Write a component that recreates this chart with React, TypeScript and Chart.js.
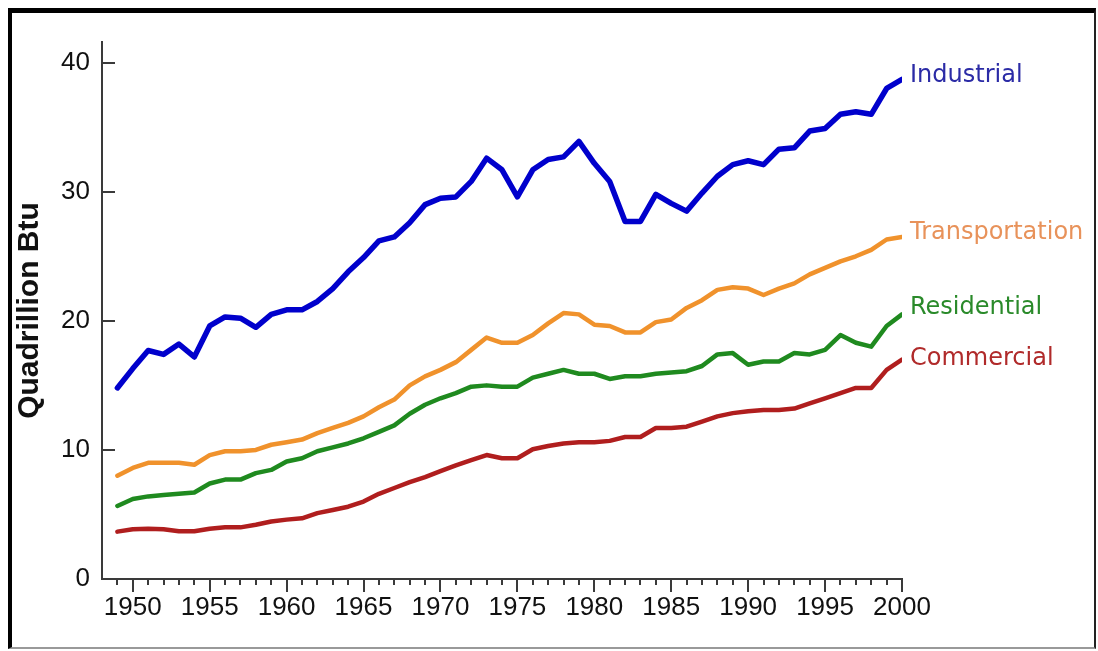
import React, { useEffect, useRef } from "react";
import { Chart, registerables } from "chart.js";

Chart.register(...registerables);

const years = [
  1949, 1950, 1951, 1952, 1953, 1954, 1955, 1956, 1957, 1958, 1959, 1960, 1961,
  1962, 1963, 1964, 1965, 1966, 1967, 1968, 1969, 1970, 1971, 1972, 1973, 1974,
  1975, 1976, 1977, 1978, 1979, 1980, 1981, 1982, 1983, 1984, 1985, 1986, 1987,
  1988, 1989, 1990, 1991, 1992, 1993, 1994, 1995, 1996, 1997, 1998, 1999, 2000,
];

const industrial = [
  14.8, 16.3, 17.7, 17.4, 18.2, 17.2, 19.6, 20.3, 20.2, 19.5, 20.5, 20.85, 20.85,
  21.5, 22.5, 23.8, 24.9, 26.2, 26.5, 27.6, 29.0, 29.5, 29.6, 30.8, 32.6, 31.7,
  29.6, 31.7, 32.5, 32.7, 33.9, 32.2, 30.8, 27.7, 27.7, 29.8, 29.1, 28.5, 29.9,
  31.2, 32.1, 32.4, 32.1, 33.3, 33.4, 34.7, 34.9, 36.0, 36.2, 36.0, 38.0, 38.7,
];

const transportation = [
  8.0, 8.6, 9.0, 9.0, 9.0, 8.85, 9.6, 9.9, 9.9, 10.0, 10.4, 10.6, 10.8,
  11.3, 11.7, 12.1, 12.6, 13.3, 13.9, 15.0, 15.7, 16.2, 16.8, 17.75, 18.7, 18.3,
  18.3, 18.9, 19.8, 20.6, 20.5, 19.7, 19.6, 19.1, 19.1, 19.9, 20.1, 21.0, 21.6,
  22.4, 22.6, 22.5, 22.0, 22.5, 22.9, 23.6, 24.1, 24.6, 25.0, 25.5, 26.3, 26.5,
];

const residential = [
  5.66, 6.2, 6.4, 6.5, 6.6, 6.7, 7.4, 7.7, 7.7, 8.2, 8.45, 9.1, 9.35,
  9.9, 10.2, 10.5, 10.9, 11.4, 11.9, 12.8, 13.5, 14.0, 14.4, 14.9, 15.0, 14.9,
  14.9, 15.6, 15.9, 16.2, 15.9, 15.9, 15.5, 15.7, 15.7, 15.9, 16.0, 16.1, 16.5,
  17.4, 17.5, 16.6, 16.85, 16.85, 17.5, 17.4, 17.75, 18.9, 18.3, 18.0, 19.6, 20.5,
];

const commercial = [
  3.67, 3.85, 3.9, 3.85, 3.7, 3.7, 3.9, 4.0, 4.0, 4.2, 4.45, 4.6, 4.7,
  5.1, 5.35, 5.6, 6.0, 6.6, 7.05, 7.5, 7.9, 8.35, 8.8, 9.2, 9.6, 9.35,
  9.35, 10.05, 10.3, 10.5, 10.6, 10.6, 10.7, 11.0, 11.0, 11.7, 11.7, 11.8, 12.2,
  12.6, 12.85, 13.0, 13.1, 13.1, 13.2, 13.6, 14.0, 14.4, 14.8, 14.8, 16.2, 17.0,
];

const seriesNames = ["Industrial", "Transportation", "Residential", "Commercial"];
const yTickValues = [0, 10, 20, 30, 40];
const xTickLabels = [1950, 1955, 1960, 1965, 1970, 1975, 1980, 1985, 1990, 1995, 2000];
const yAxisTitle = "Quadrillion Btu";

const lineColors = ["#0000cc", "#f0922c", "#1f8a1f", "#b01e1e"];
const labelColors = ["#2b2ba6", "#e8925a", "#2a8a2a", "#b02a2a"];
const lineWidths = [5.5, 4.5, 4.5, 4.5];
const labelDy = [-4, -4, -7, -1];

const decorPlugin = {
  id: "decor",
  afterDatasetsDraw(chart: any) {
    const { ctx } = chart;
    const x = chart.scales.x;
    const y = chart.scales.y;
    ctx.save();
    ctx.strokeStyle = "#3a3a3a";
    ctx.lineWidth = 2;
    ctx.beginPath();
    const base = y.getPixelForValue(0);
    for (const yr of years) {
      const px = Math.round(x.getPixelForValue(yr));
      const len = yr % 5 === 0 ? 13 : 6;
      ctx.moveTo(px, base);
      ctx.lineTo(px, base + len);
    }
    const left = x.getPixelForValue(1948);
    for (const v of yTickValues) {
      if (v === 0) continue;
      const py = Math.round(y.getPixelForValue(v));
      ctx.moveTo(left, py);
      ctx.lineTo(left + 13, py);
    }
    ctx.stroke();

    const sets = [industrial, transportation, residential, commercial];
    ctx.font = '24px "DejaVu Sans", sans-serif';
    ctx.textAlign = "left";
    ctx.textBaseline = "middle";
    seriesNames.forEach((name, i) => {
      const vals = sets[i];
      const lx = x.getPixelForValue(years[years.length - 1]) + 8;
      const ly = y.getPixelForValue(vals[vals.length - 1]) + labelDy[i];
      ctx.fillStyle = labelColors[i];
      ctx.fillText(name, lx, ly);
    });
    ctx.restore();
  },
};

export default function App() {
  const canvasRef = useRef<HTMLCanvasElement | null>(null);

  useEffect(() => {
    const canvas = canvasRef.current;
    if (!canvas) return;
    const sets = [industrial, transportation, residential, commercial];
    const chart = new Chart(canvas, {
      type: "line",
      data: {
        datasets: sets.map((vals, i) => ({
          label: seriesNames[i],
          data: years.map((yr, j) => ({ x: yr, y: vals[j] })),
          borderColor: lineColors[i],
          backgroundColor: lineColors[i],
          borderWidth: lineWidths[i],
          pointRadius: 0,
          tension: 0,
          borderJoinStyle: "round",
          borderCapStyle: "round",
          fill: false,
        })),
      },
      options: {
        responsive: false,
        animation: false,
        devicePixelRatio: 1,
        layout: { padding: { left: 12, top: 42, right: 196, bottom: 22 } },
        plugins: {
          legend: { display: false },
          tooltip: { enabled: false },
          title: { display: false },
        },
        scales: {
          x: {
            type: "linear",
            min: 1948,
            max: 2000,
            afterBuildTicks: (scale: any) => {
              scale.ticks = xTickLabels.map((v) => ({ value: v }));
            },
            afterFit: (scale: any) => {
              scale.height = 50;
            },
            grid: { display: true, drawOnChartArea: false, drawTicks: false },
            border: { display: true, color: "#3a3a3a", width: 2 },
            ticks: {
              padding: 13,
              maxRotation: 0,
              autoSkip: false,
              color: "#111",
              font: { family: '"Liberation Sans", Arial, sans-serif', size: 26 },
              callback: (v: any) => String(v),
            },
          },
          y: {
            type: "linear",
            min: 0,
            max: 41.6,
            afterBuildTicks: (scale: any) => {
              scale.ticks = yTickValues.map((v) => ({ value: v }));
            },
            afterFit: (scale: any) => {
              scale.width = 90;
            },
            grid: { display: true, drawOnChartArea: false, drawTicks: false },
            border: { display: true, color: "#3a3a3a", width: 2 },
            title: {
              display: true,
              text: yAxisTitle,
              color: "#111",
              padding: 0,
              font: { family: '"Liberation Sans", Arial, sans-serif', size: 30, weight: "bold" },
            },
            ticks: {
              padding: 12,
              color: "#111",
              font: { family: '"Liberation Sans", Arial, sans-serif', size: 26 },
              callback: (v: any) => String(v),
            },
          },
        },
      },
      plugins: [decorPlugin],
    } as any);
    return () => chart.destroy();
  }, []);

  return (
    <div style={{ position: "absolute", left: 0, top: 0, width: 1098, height: 651, background: "#fff" }}>
      <canvas ref={canvasRef} width={1098} height={651} style={{ position: "absolute", left: 0, top: 0 }} />
      <div
        style={{
          position: "absolute",
          left: 8,
          top: 8,
          width: 1088,
          height: 641,
          boxSizing: "border-box",
          borderTop: "5px solid #000",
          borderLeft: "4px solid #000",
          borderRight: "2px solid #222",
          borderBottom: "2px solid #999",
          pointerEvents: "none",
        }}
      />
    </div>
  );
}
